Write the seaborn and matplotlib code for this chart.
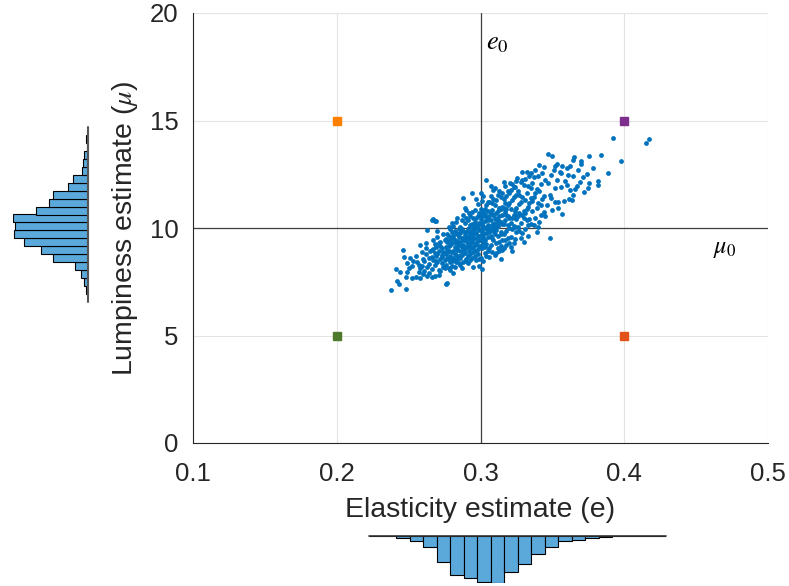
import numpy as np
import pandas as pd
import matplotlib
matplotlib.use("Agg")
import matplotlib.pyplot as plt
import seaborn as sns

sns.set_theme(style="white")
plt.rcParams['font.family'] = ['Liberation Sans', 'DejaVu Sans']
plt.rcParams['mathtext.fontset'] = 'stix'

# ---------------- data ----------------
elasticity = [
    0.238, 0.242, 0.243, 0.244, 0.241,
    0.248, 0.246, 0.247, 0.249, 0.252, 0.250, 0.249, 0.248, 0.252, 0.255, 0.253, 0.251,
    0.258, 0.255, 0.258, 0.259, 0.258, 0.263, 0.263, 0.256, 0.257, 0.260, 0.261, 0.262, 0.264, 0.260, 0.262, 0.264, 0.259, 0.261, 0.263, 0.265, 0.257, 0.264, 0.262,
    0.266, 0.268, 0.271, 0.266, 0.268, 0.267, 0.269,
    0.266, 0.267, 0.268, 0.269, 0.270, 0.271, 0.272, 0.273, 0.274, 0.266, 0.267, 0.268, 0.269, 0.270, 0.271, 0.272, 0.273, 0.274, 0.275,
    0.266, 0.268, 0.270, 0.271, 0.272, 0.273, 0.274, 0.275, 0.267, 0.269, 0.270, 0.272, 0.273, 0.275,
    0.276, 0.277, 0.276, 0.277, 0.278, 0.279, 0.280, 0.281, 0.282, 0.283, 0.284, 0.285,
    0.276, 0.277, 0.278, 0.279, 0.280, 0.281, 0.282, 0.283, 0.284, 0.285,
    0.276, 0.277, 0.278, 0.279, 0.280, 0.281, 0.282, 0.283, 0.284, 0.285,
    0.276, 0.277, 0.278, 0.279, 0.280, 0.281, 0.282, 0.283, 0.284, 0.285,
    0.278, 0.279, 0.280, 0.281, 0.282, 0.283, 0.284, 0.285,
    0.277, 0.279, 0.280, 0.282, 0.283, 0.284, 0.281, 0.278,
    0.288, 0.294, 0.295,
    0.286, 0.287, 0.288, 0.289, 0.290, 0.291, 0.292, 0.293, 0.294, 0.295,
    0.286, 0.287, 0.288, 0.289, 0.290, 0.291, 0.292, 0.293, 0.294, 0.295,
    0.286, 0.287, 0.288, 0.289, 0.290, 0.291, 0.292, 0.293, 0.294, 0.295,
    0.286, 0.287, 0.288, 0.289, 0.290, 0.291, 0.292, 0.293, 0.294, 0.295,
    0.286, 0.287, 0.288, 0.289, 0.290, 0.291, 0.292, 0.293, 0.294, 0.295,
    0.286, 0.288, 0.289, 0.290, 0.291, 0.292, 0.293, 0.294, 0.295,
    0.287, 0.289, 0.291, 0.293, 0.294,
    0.304,
    0.296, 0.297, 0.298, 0.299, 0.300, 0.301, 0.302, 0.303, 0.304, 0.305,
    0.296, 0.297, 0.298, 0.299, 0.300, 0.301, 0.302, 0.303, 0.304, 0.305,
    0.296, 0.297, 0.298, 0.299, 0.300, 0.301, 0.302, 0.303, 0.304, 0.305,
    0.296, 0.297, 0.298, 0.299, 0.300, 0.301, 0.302, 0.303, 0.304, 0.305,
    0.296, 0.297, 0.298, 0.299, 0.300, 0.301, 0.302, 0.303, 0.304, 0.305,
    0.296, 0.297, 0.298, 0.299, 0.300, 0.301, 0.302, 0.303, 0.304, 0.305,
    0.297, 0.299, 0.300, 0.301, 0.302, 0.303, 0.305, 0.298, 0.300,
    0.307, 0.3145,
    0.306, 0.307, 0.308, 0.309, 0.310, 0.311, 0.312, 0.313, 0.314, 0.315,
    0.306, 0.307, 0.308, 0.309, 0.310, 0.311, 0.312, 0.313, 0.314, 0.315,
    0.306, 0.307, 0.308, 0.309, 0.310, 0.311, 0.312, 0.313, 0.314, 0.315,
    0.306, 0.307, 0.308, 0.309, 0.310, 0.311, 0.312, 0.313, 0.314, 0.315,
    0.306, 0.307, 0.308, 0.309, 0.310, 0.311, 0.312, 0.313, 0.314, 0.315,
    0.306, 0.308, 0.309, 0.310, 0.311, 0.312, 0.313, 0.314, 0.315, 0.310,
    0.316, 0.3205,
    0.316, 0.317, 0.318, 0.319, 0.320, 0.321, 0.322, 0.323, 0.324, 0.325,
    0.316, 0.317, 0.318, 0.319, 0.320, 0.321, 0.322, 0.323, 0.324, 0.325,
    0.316, 0.317, 0.318, 0.319, 0.320, 0.321, 0.322, 0.323, 0.324, 0.325,
    0.316, 0.317, 0.318, 0.319, 0.320, 0.321, 0.322, 0.323, 0.324, 0.325,
    0.317, 0.319, 0.321, 0.323, 0.325, 0.318, 0.320, 0.322, 0.324, 0.316,
    0.3287, 0.3256, 0.330,
    0.326, 0.327, 0.328, 0.329, 0.330, 0.331, 0.332, 0.333, 0.334, 0.335,
    0.326, 0.327, 0.328, 0.329, 0.330, 0.331, 0.332, 0.333, 0.334, 0.335,
    0.326, 0.327, 0.328, 0.329, 0.330, 0.331, 0.332, 0.333, 0.334, 0.335,
    0.327, 0.329, 0.331, 0.333, 0.335, 0.328, 0.332,
    0.339,
    0.336, 0.337, 0.338, 0.339, 0.340, 0.341, 0.342, 0.343, 0.344, 0.345,
    0.336, 0.337, 0.338, 0.339, 0.340, 0.341, 0.342, 0.343, 0.344, 0.345,
    0.336, 0.338, 0.340, 0.342, 0.344, 0.337, 0.341,
    0.347, 0.350, 0.353, 0.3537, 0.3518, 0.348,
    0.346, 0.347, 0.348, 0.349, 0.350, 0.351, 0.352, 0.353, 0.354, 0.355, 0.349, 0.352,
    0.357, 0.360, 0.362, 0.365, 0.364, 0.364, 0.3616, 0.3638, 0.358, 0.364, 0.3607, 0.360, 0.357, 0.356, 0.359, 0.362, 0.356,
    0.370, 0.370, 0.369, 0.367, 0.3655, 0.372, 0.374, 0.3748, 0.368, 0.371,
    0.3757, 0.3757, 0.3836, 0.3885, 0.382, 0.382, 0.378,
    0.3923, 0.3975, 0.415, 0.417,
]
lumpiness = [
    7.12, 7.53, 7.41, 7.95, 8.10,
    7.16, 8.96, 8.67, 8.36, 8.23, 8.15, 7.94, 7.73, 7.69, 7.72, 8.45, 8.60,
    7.69, 8.71, 9.21, 8.25, 8.12, 7.75, 9.91, 8.40, 7.95, 8.55, 8.02, 8.80, 8.33, 7.88, 9.05, 8.62, 8.90, 8.45, 8.18, 8.95, 8.30, 7.92, 9.30,
    7.74, 7.78, 7.81, 10.37, 10.33, 10.40, 10.34,
    8.10, 8.52, 8.85, 9.12, 8.40, 8.95, 9.35, 8.65, 8.20, 8.98, 9.45, 8.28, 8.70, 9.60, 8.05, 8.58, 9.08, 8.88, 9.42,
    8.66, 9.25, 8.78, 9.28, 7.98, 8.35, 9.70, 8.50, 9.02, 8.45, 9.88, 9.15, 8.75, 8.12,
    7.41, 7.43, 8.30, 8.62, 8.95, 9.20, 8.48, 9.55, 8.80, 9.05, 9.38, 8.70,
    9.10, 9.72, 8.15, 8.68, 9.32, 8.92, 9.85, 8.40, 8.98, 9.60,
    8.78, 9.35, 9.62, 8.05, 8.90, 10.10, 9.12, 9.75, 8.58, 9.22,
    9.50, 8.88, 9.15, 9.95, 8.25, 8.62, 9.45, 10.30, 9.70, 8.35,
    10.05, 9.42, 9.82, 7.92, 8.52, 9.28, 10.45, 9.95,
    9.00, 8.40, 10.25, 8.20, 8.75, 9.05, 9.65, 8.55,
    11.41, 11.61, 8.19,
    8.60, 9.10, 9.45, 8.85, 9.80, 9.25, 8.95, 10.15, 9.55, 9.05,
    9.35, 9.95, 8.40, 9.68, 9.12, 10.35, 9.48, 8.78, 9.88, 10.45,
    10.05, 8.75, 9.22, 10.25, 8.55, 9.58, 10.02, 9.32, 8.62, 9.72,
    8.95, 9.52, 10.62, 9.02, 10.48, 8.68, 9.18, 9.78, 10.20, 8.90,
    9.75, 10.38, 9.85, 8.48, 9.40, 9.95, 10.72, 9.05, 9.35, 10.05,
    8.30, 8.92, 9.55, 10.85, 8.35, 9.65, 10.55, 9.10, 9.48,
    8.15, 10.95, 9.85, 8.50, 10.75,
    12.23,
    9.20, 9.75, 10.10, 9.45, 10.40, 9.88, 9.30, 10.65, 10.02, 9.60,
    10.30, 8.95, 9.62, 10.22, 9.15, 10.55, 10.08, 9.42, 9.78, 10.35,
    9.55, 10.45, 8.80, 9.90, 9.68, 9.05, 10.75, 9.98, 10.50, 8.95,
    8.70, 9.32, 10.58, 8.58, 10.90, 9.48, 9.72, 8.85, 9.25, 10.78,
    10.85, 10.15, 9.38, 10.70, 8.62, 10.25, 8.45, 10.32, 11.05, 9.85,
    9.95, 8.50, 11.10, 9.18, 9.92, 11.25, 9.58, 9.12, 8.70, 10.12,
    11.35, 8.25, 10.18, 8.10, 11.48, 10.88, 11.20, 9.02, 11.65,
    11.94, 8.57,
    9.80, 10.35, 9.55, 10.60, 10.05, 9.30, 10.80, 10.25, 9.70, 11.00,
    10.55, 9.20, 10.15, 9.88, 11.05, 10.42, 9.62, 10.95, 10.30, 9.45,
    9.05, 10.72, 11.15, 9.42, 9.72, 11.28, 10.10, 9.35, 11.45, 10.62,
    11.20, 9.65, 8.90, 11.35, 10.48, 8.85, 11.52, 10.58, 9.15, 10.18,
    10.00, 11.50, 10.85, 10.20, 8.75, 10.70, 9.08, 11.70, 10.88, 11.62,
    8.65, 9.95, 11.78, 11.88, 9.92, 10.38, 8.95, 9.82, 8.98, 10.22,
    12.15, 12.07,
    10.20, 10.75, 9.85, 11.05, 10.45, 9.60, 11.30, 10.62, 10.05, 11.55,
    11.35, 9.45, 10.60, 10.15, 11.62, 10.88, 9.95, 11.42, 10.78, 9.82,
    9.70, 11.15, 11.50, 9.55, 10.02, 11.75, 10.48, 9.30, 11.90, 10.95,
    10.92, 10.38, 9.22, 11.70, 9.28, 10.25, 12.05, 10.08, 9.48, 10.40,
    11.95, 10.55, 9.10, 11.92, 12.20, 10.90, 11.18, 8.92, 10.60, 9.05,
    12.59, 12.34, 9.36,
    10.55, 11.10, 10.25, 11.45, 10.80, 9.95, 11.65, 11.00, 10.40, 11.85,
    11.70, 9.85, 11.20, 10.60, 12.00, 11.30, 10.35, 11.95, 11.15, 10.20,
    10.05, 11.55, 12.15, 9.75, 10.48, 12.30, 10.90, 9.62, 12.42, 11.40,
    10.72, 12.25, 10.68, 10.15, 12.55, 9.55, 12.62,
    9.81,
    10.80, 11.45, 10.45, 11.80, 11.15, 10.30, 12.05, 11.35, 10.75, 12.25,
    12.10, 10.15, 11.62, 10.95, 12.40, 11.70, 10.60, 12.55, 11.50, 10.55,
    11.25, 12.72, 10.05, 11.05, 12.85, 12.35, 12.95,
    13.43, 13.35, 13.00, 11.22, 11.20, 9.52,
    11.05, 12.10, 11.55, 12.45, 10.85, 12.70, 11.85, 12.25, 10.95, 12.60, 11.40, 12.90,
    12.90, 12.80, 12.87, 13.32, 13.15, 11.52, 11.33, 11.30, 11.27, 12.43, 12.48, 12.00, 10.65, 11.90, 12.20, 11.75, 12.55,
    13.13, 12.96, 12.15, 11.95, 11.80, 11.67, 12.50, 11.87, 12.70, 12.35,
    13.35, 12.10, 13.41, 12.54, 12.19, 12.00, 12.80,
    14.19, 13.13, 13.94, 14.14,
]

# reference / probe points (e, mu) and their colours
probe_e = [0.2, 0.4, 0.2, 0.4]
probe_mu = [15, 15, 5, 5]
probe_colors = ['#FF8000', '#7E2F8E', '#4D7A2A', '#E2521A']

e0, mu0 = 0.3, 10.0

# marginal histogram counts
e_hist_counts = [1, 2, 8, 15, 33, 80, 118, 128, 138, 143, 108, 86, 56, 35, 15, 12, 7, 3, 2, 1, 2, 0]
# lumpiness histogram, listed from low mu (bottom) to high mu (top)
mu_hist_counts = [0, 5, 10, 21, 38, 105, 139, 191, 220, 218, 225, 156, 116, 103, 60, 43, 16, 13, 10, 2, 4, 0]

x_ticks = [0.1, 0.2, 0.3, 0.4, 0.5]
y_ticks = [0, 5, 10, 15, 20]

# ---------------- figure ----------------
W, H = 789, 586
fig = plt.figure(figsize=(W / 100, H / 100), dpi=100)

def px_axes(x0, y0, x1, y1):
    return fig.add_axes([x0 / W, 1 - y1 / H, (x1 - x0) / W, (y1 - y0) / H])

dark = '#262626'
ax = px_axes(193, 13, 768, 443)
ax.set_xlim(0.1, 0.5)
ax.set_ylim(0, 20)
ax.set_xticks(x_ticks)
ax.set_yticks(y_ticks)
ax.set_xticklabels([f"{v:g}" for v in x_ticks])
ax.grid(True, color='#E3E3E3', linewidth=0.8)
ax.set_axisbelow(True)
for s in ['top', 'right']:
    ax.spines[s].set_visible(False)
for s in ['left', 'bottom']:
    ax.spines[s].set_color(dark)
    ax.spines[s].set_linewidth(0.8)
ax.tick_params(direction='out', length=4.5, width=0.8, color=dark,
               labelsize=18.5, labelcolor=dark)
ax.tick_params(axis='x', pad=9)
ax.tick_params(axis='y', pad=6)

ax.axvline(e0, color='#404040', linewidth=0.9, zorder=1)
ax.axhline(mu0, color='#404040', linewidth=0.9, zorder=1)

scatter_df = pd.DataFrame({'e': elasticity, 'mu': lumpiness})
sns.scatterplot(data=scatter_df, x='e', y='mu', ax=ax, color='#0072BD', s=12,
                linewidth=0, zorder=3)
for pe, pm, pc in zip(probe_e, probe_mu, probe_colors):
    ax.plot(pe, pm, marker='s', markersize=5.8, color=pc, linestyle='none', zorder=4)

ax.text(0.3035, 18.6, r'$e_0$', fontsize=19, color='black', ha='left', va='center')
ax.text(0.4615, 9.0, r'$\mu_0$', fontsize=17.5, color='black', ha='left', va='center')

ax.set_xlabel('Elasticity estimate (e)', fontsize=20.5, color=dark, labelpad=8)
ax.set_ylabel(r'Lumpiness estimate ($\mu$)', fontsize=20.5, color=dark, labelpad=7)

# bottom marginal histogram (hangs down)
hist_face = '#5BA8DA'
axb = px_axes(369.3, 535.7, 666, 583.4)
nb = len(e_hist_counts)
df_b = pd.DataFrame({'bin': np.arange(nb) + 0.5, 'count': e_hist_counts})
sns.histplot(data=df_b, x='bin', weights='count', bins=nb, binrange=(0, nb), ax=axb,
             color=hist_face, edgecolor='black', linewidth=0.8, alpha=1)
axb.set_xlim(0, nb)
axb.set_ylim(max(e_hist_counts), 0)
axb.axhline(0, color='#333333', linewidth=1.2, clip_on=False)
axb.axis('off')

# left marginal histogram (extends to the left)
axl = px_axes(12.7, 127, 87.7, 302)
nl = len(mu_hist_counts)
df_l = pd.DataFrame({'bin': np.arange(nl) + 0.5, 'count': mu_hist_counts})
sns.histplot(data=df_l, y='bin', weights='count', bins=nl, binrange=(0, nl), ax=axl,
             color=hist_face, edgecolor='black', linewidth=0.8, alpha=1)
axl.set_ylim(0, nl)
axl.set_xlim(max(mu_hist_counts), 0)
axl.axvline(0, color='#555555', linewidth=1.5, clip_on=False)
axl.axis('off')

fig.savefig('out.png', dpi=100)
